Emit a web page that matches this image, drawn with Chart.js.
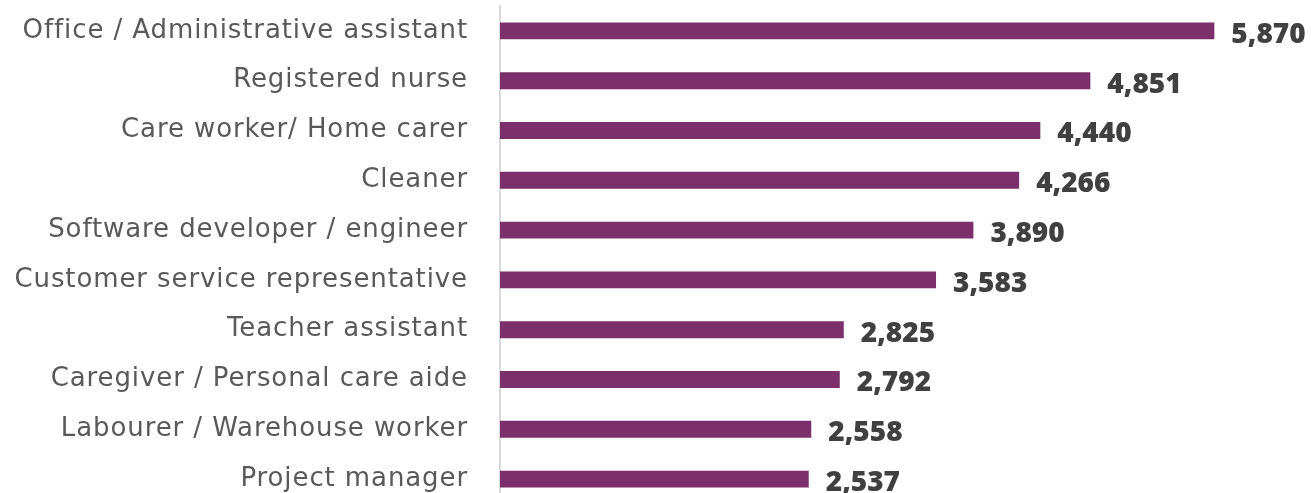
<!DOCTYPE html>
<html>
<head>
<meta charset="utf-8">
<script src="https://cdn.jsdelivr.net/npm/chart.js@4"></script>
<style>
html,body{margin:0;padding:0;background:#fff;overflow:hidden;}
canvas{display:block;}
</style>
</head>
<body>
<canvas id="c" width="1311" height="506" style="width:1311px;height:506px"></canvas>
<script>
const categories = [
  "Office / Administrative assistant",
  "Registered nurse",
  "Care worker/ Home carer",
  "Cleaner",
  "Software developer / engineer",
  "Customer service representative",
  "Teacher assistant",
  "Caregiver / Personal care aide",
  "Labourer / Warehouse worker",
  "Project manager"
];
const values = [5870, 4851, 4440, 4266, 3890, 3583, 2825, 2792, 2558, 2537];

const FONT = "'DejaVu Sans', sans-serif";

const spacing = {
  id: 'spacing',
  beforeDraw(chart) { chart.ctx.letterSpacing = '0.9px'; },
  afterDatasetsDraw(chart) { chart.ctx.letterSpacing = '0px'; }
};

const valueLabels = {
  id: 'valueLabels',
  afterDatasetsDraw(chart) {
    const ctx = chart.ctx;
    const meta = chart.getDatasetMeta(0);
    ctx.save();
    ctx.letterSpacing = '0px';
    ctx.font = "800 28px 'Open Sans', sans-serif";
    ctx.fillStyle = '#404040';
    ctx.textAlign = 'left';
    ctx.textBaseline = 'middle';
    meta.data.forEach((bar, i) => {
      ctx.fillText(values[i].toLocaleString('en-US'), bar.x + 17, bar.y + 4);
    });
    ctx.restore();
  }
};

new Chart(document.getElementById('c'), {
  type: 'bar',
  data: {
    labels: categories,
    datasets: [{
      data: values,
      backgroundColor: '#7B2F6B',
      borderWidth: 0,
      barPercentage: 0.34,
      categoryPercentage: 1.0
    }]
  },
  options: {
    indexAxis: 'y',
    responsive: false,
    maintainAspectRatio: false,
    devicePixelRatio: 1,
    animation: false,
    layout: { padding: { top: 6, right: 20, bottom: 2, left: 0 } },
    plugins: { legend: { display: false }, tooltip: { enabled: false } },
    scales: {
      x: {
        display: false,
        min: 0,
        max: 6500
      },
      y: {
        afterFit(scale) { scale.width = 500; scale.paddingTop = 0; scale.paddingBottom = 0; },
        grid: { display: false, drawTicks: false },
        border: { display: true, color: '#d9d9d9', width: 2 },
        ticks: {
          padding: 32,
          autoSkip: false,
          color: '#595959',
          font: { family: FONT, size: 26 }
        }
      }
    }
  },
  plugins: [spacing, valueLabels]
});
</script>
</body>
</html>
